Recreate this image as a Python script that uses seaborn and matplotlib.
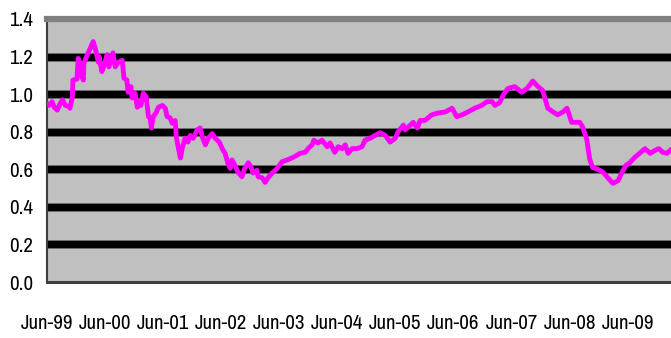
import numpy as np
import pandas as pd
import matplotlib
matplotlib.use("Agg")
import matplotlib.pyplot as plt
import matplotlib.dates as mdates
from matplotlib import font_manager as fm
from matplotlib.ticker import FormatStrFormatter
import seaborn as sns

# Observation times as decimal years
years = [
    1999.42, 1999.45, 1999.50, 1999.54, 1999.59, 1999.64, 1999.68, 1999.73, 1999.78, 1999.81,
    1999.85, 1999.86, 1999.93, 1999.95, 1999.99, 2000.02, 2000.04, 2000.05, 2000.11, 2000.16,
    2000.21, 2000.24, 2000.30, 2000.31, 2000.36, 2000.40, 2000.45, 2000.48, 2000.55, 2000.59,
    2000.64, 2000.71, 2000.74, 2000.79, 2000.81, 2000.86, 2000.88, 2000.93, 2000.97, 2001.00,
    2001.03, 2001.07, 2001.12, 2001.16, 2001.19, 2001.21, 2001.24, 2001.29, 2001.33, 2001.40,
    2001.45, 2001.48, 2001.53, 2001.57, 2001.62, 2001.64, 2001.67, 2001.71, 2001.74, 2001.79,
    2001.84, 2001.88, 2001.93, 2002.00, 2002.05, 2002.09, 2002.14, 2002.19, 2002.26, 2002.31,
    2002.38, 2002.43, 2002.48, 2002.53, 2002.57, 2002.60, 2002.65, 2002.70, 2002.77, 2002.82,
    2002.88, 2002.93, 2002.96, 2003.03, 2003.05, 2003.12, 2003.17, 2003.22, 2003.29, 2003.38,
    2003.46, 2003.55, 2003.63, 2003.72, 2003.77, 2003.86, 2003.91, 2003.98, 2004.01, 2004.08,
    2004.15, 2004.24, 2004.29, 2004.37, 2004.43, 2004.50, 2004.55, 2004.60, 2004.67, 2004.75,
    2004.84, 2004.89, 2004.98, 2005.06, 2005.15, 2005.24, 2005.32, 2005.41, 2005.46, 2005.55,
    2005.58, 2005.67, 2005.72, 2005.79, 2005.84, 2005.92, 2006.04, 2006.15, 2006.27, 2006.39,
    2006.47, 2006.56, 2006.66, 2006.78, 2006.90, 2006.99, 2007.08, 2007.13, 2007.21, 2007.27,
    2007.35, 2007.47, 2007.59, 2007.68, 2007.78, 2007.87, 2007.95, 2008.04, 2008.13, 2008.21,
    2008.30, 2008.37, 2008.45, 2008.59, 2008.64, 2008.71, 2008.76, 2008.81, 2008.90, 2008.99,
    2009.07, 2009.16, 2009.25, 2009.31, 2009.38, 2009.45, 2009.54, 2009.62, 2009.71, 2009.80,
    2009.88, 2009.95, 2010.02, 2010.09, 2010.16,
]

values = [
    0.950, 0.940, 0.960, 0.930, 0.915, 0.950, 0.970, 0.940, 0.935, 0.925,
    0.985, 1.075, 1.080, 1.190, 1.150, 1.090, 1.075, 1.165, 1.210, 1.245,
    1.280, 1.250, 1.170, 1.200, 1.120, 1.155, 1.210, 1.145, 1.220, 1.145,
    1.170, 1.180, 1.085, 1.075, 1.010, 1.040, 0.980, 1.005, 0.930, 0.960,
    0.940, 1.005, 0.985, 0.880, 0.870, 0.820, 0.880, 0.900, 0.930, 0.940,
    0.925, 0.880, 0.875, 0.845, 0.860, 0.770, 0.720, 0.660, 0.710, 0.765,
    0.745, 0.780, 0.765, 0.810, 0.820, 0.770, 0.730, 0.765, 0.790, 0.765,
    0.745, 0.710, 0.685, 0.630, 0.605, 0.650, 0.620, 0.585, 0.560, 0.605,
    0.635, 0.610, 0.580, 0.595, 0.560, 0.555, 0.530, 0.555, 0.580, 0.605,
    0.640, 0.650, 0.660, 0.675, 0.685, 0.690, 0.710, 0.730, 0.755, 0.740,
    0.755, 0.720, 0.740, 0.690, 0.720, 0.710, 0.730, 0.685, 0.710, 0.710,
    0.720, 0.755, 0.765, 0.780, 0.795, 0.780, 0.745, 0.765, 0.800, 0.835,
    0.810, 0.835, 0.850, 0.820, 0.860, 0.860, 0.890, 0.900, 0.905, 0.925,
    0.880, 0.890, 0.905, 0.925, 0.940, 0.960, 0.960, 0.940, 0.955, 0.995,
    1.030, 1.040, 1.010, 1.030, 1.070, 1.040, 1.020, 0.925, 0.905, 0.890,
    0.905, 0.925, 0.850, 0.850, 0.825, 0.760, 0.655, 0.610, 0.600, 0.585,
    0.555, 0.525, 0.540, 0.580, 0.620, 0.635, 0.665, 0.685, 0.710, 0.685,
    0.700, 0.710, 0.690, 0.685, 0.705,
]

y_ticks = [0.0, 0.2, 0.4, 0.6, 0.8, 1.0, 1.2, 1.4]
grid_levels = [0.2, 0.4, 0.6, 0.8, 1.0, 1.2]
x_start = "1999-06-01"
x_end_year = 2010.16


def to_date(y):
    yr = int(np.floor(y))
    return pd.Timestamp(year=yr, month=1, day=1) + pd.Timedelta(days=(y - yr) * 365.25)


df = pd.DataFrame({"date": [to_date(y) for y in years], "value": values})

sns.set_style("white")

# pick a narrow sans face for the tick labels
fonts = fm.fontManager.ttflist
narrow_names = [f.name for f in fonts if "Narrow" in f.name or "Condensed" in f.name]
condensed_faces = [f for f in fonts if f.stretch in ("condensed", "semi-condensed", 500 - 125, 375)
                   or "Condensed" in f.fname or "Narrow" in f.fname]
label_kw = {}
if narrow_names:
    plt.rcParams["font.family"] = [narrow_names[0], "DejaVu Sans"]
    label_size = 15
elif condensed_faces:
    plt.rcParams["font.family"] = ["sans-serif"]
    label_kw = {"fname": condensed_faces[0].fname}
    label_size = 14
else:
    plt.rcParams["font.family"] = ["Liberation Sans", "DejaVu Sans"]
    label_size = 13

W, H = 671, 338
fig = plt.figure(figsize=(W / 100, H / 100), dpi=100)
left, top, bottom = 47, 19, 282
ax = fig.add_axes([left / W, 1 - bottom / H, 1 - left / W, (bottom - top) / H])
ax.set_facecolor("#c0c0c0")

# heavy horizontal bands
for lvl in grid_levels:
    ax.axhline(lvl, color="#5a5a5a", lw=6.2, zorder=1)
    ax.axhline(lvl, color="black", lw=5.0, zorder=1.1)

sns.lineplot(data=df, x="date", y="value", color="#ff00ff", lw=3.5,
             ax=ax, zorder=3, legend=False)

ax.set_ylim(0, 1.4)
ax.set_xlim(pd.Timestamp(x_start), to_date(x_end_year))
ax.set_yticks(y_ticks)
ax.yaxis.set_major_formatter(FormatStrFormatter("%.1f"))
ax.xaxis.set_major_locator(mdates.MonthLocator(bymonth=6, bymonthday=1))
ax.xaxis.set_major_formatter(mdates.DateFormatter("%b-%y"))
ax.set_xlabel("")
ax.set_ylabel("")

for side in ["left", "bottom"]:
    ax.spines[side].set_color("#404040")
ax.spines["left"].set_linewidth(1.5)
ax.spines["bottom"].set_linewidth(2.2)
ax.spines["top"].set_color("#808080")
ax.spines["top"].set_linewidth(4.5)
ax.spines["right"].set_visible(False)

ax.tick_params(axis="both", direction="out", length=5, width=1.2,
               color="#404040", labelsize=label_size, labelcolor="black")
ax.tick_params(axis="x", pad=18)
ax.tick_params(axis="y", pad=5)

if label_kw:
    prop = fm.FontProperties(fname=label_kw["fname"], size=label_size)
    for lab in ax.get_xticklabels() + ax.get_yticklabels():
        lab.set_fontproperties(prop)

fig.savefig("out.png", dpi=100, facecolor="white")
